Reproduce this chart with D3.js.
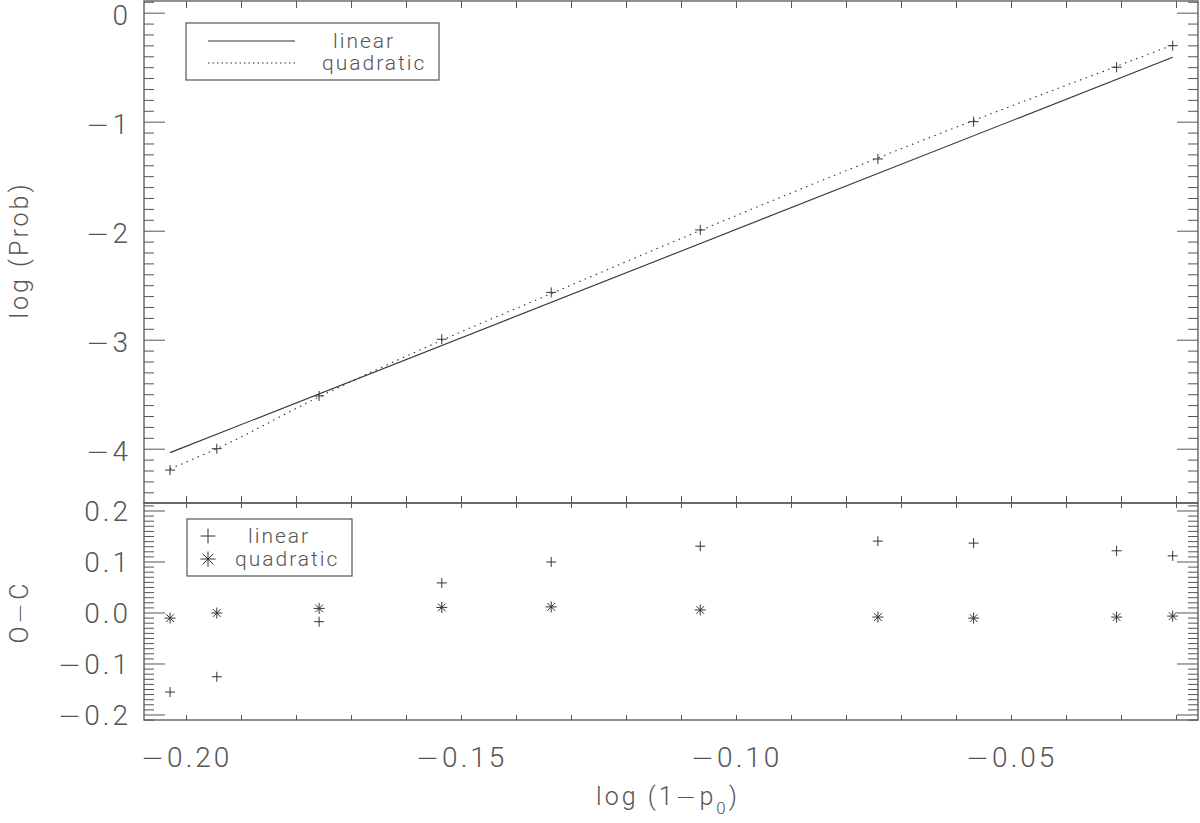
<!DOCTYPE html>
<html><head><meta charset="utf-8">
<script src="https://cdn.jsdelivr.net/npm/d3@7"></script>
<style>
html,body{margin:0;padding:0;background:#fff;}
text{font-family:Roboto,"DejaVu Sans",sans-serif;font-weight:300;fill:#555;}
tspan.mn{font-family:"DejaVu Sans",sans-serif;font-weight:200;}
</style></head>
<body><svg id="c" width="1200" height="823"></svg>
<script>
// ---- data ----
const logOneMinusP0 = [-0.2029, -0.1944, -0.1758, -0.1535, -0.1336, -0.1065, -0.0742, -0.0568, -0.0308, -0.0206];
const logProb       = [-4.196, -4.000, -3.516, -2.996, -2.566, -1.993, -1.342, -1.000, -0.501, -0.303];
const quadraticFit  = [-4.185, -3.999, -3.524, -3.006, -2.577, -1.998, -1.333, -0.989, -0.492, -0.296];
const linearFitX    = [-0.2029, -0.0206];
const linearFitY    = [-4.036, -0.409];
const ocLinear      = [-0.156, -0.126, -0.018, 0.058, 0.099, 0.130, 0.140, 0.136, 0.121, 0.111];
const ocQuadratic   = [-0.011, -0.001, 0.008, 0.010, 0.011, 0.005, -0.009, -0.011, -0.009, -0.007];
const xTickValues   = [-0.20, -0.15, -0.10, -0.05];
const xTickLabels   = ["\u22120.20", "\u22120.15", "\u22120.10", "\u22120.05"];
const topTickValues = [0, -1, -2, -3, -4];
const topTickLabels = ["0", "\u22121", "\u22122", "\u22123", "\u22124"];
const botTickValues = [0.2, 0.1, 0.0, -0.1, -0.2];
const botTickLabels = ["0.2", "0.1", "0.0", "\u22120.1", "\u22120.2"];
const legendTop     = ["linear", "quadratic"];
const legendBottom  = ["linear", "quadratic"];

// ---- layout ----
const L = 144, R = 1198, T1 = 1, B1 = 503, T2 = 503, B2 = 720;
const svg = d3.select("#c");
const axisCol = "#555", markCol = "#333";

const x = d3.scaleLinear().domain([-0.20764, -0.0160]).range([L, R]);
const yT = d3.scaleLinear().domain([-4.498, 0.107]).range([B1, T1]);
const yB = d3.scaleLinear().domain([-0.2108, 0.2147]).range([B2, T2]);

function rng(a, b, s) { const out = []; const n = Math.round((b - a) / s); for (let i = 0; i <= n; i++) out.push(+(a + i * s).toFixed(4)); return out; }
const xMinor = rng(-0.20, -0.02, 0.01);
const topMinor = rng(-4.4, 0.1, 0.1).filter(v => Math.abs(v - Math.round(v)) > 1e-6);
const botMinor = rng(-0.21, 0.21, 0.01).filter(v => Math.abs(v * 10 - Math.round(v * 10)) > 1e-6);
const botMajor = [-0.2, -0.1, 0.0, 0.1, 0.2];

function styleAxis(g) {
  g.select(".domain").remove();
  g.selectAll("line").attr("stroke", axisCol).attr("stroke-width", 1);
  g.selectAll("text").remove();
}
// put a wide minus sign into a text element
function fillText(t, str) {
  t.text(null);
  const parts = str.split("\u2212");
  parts.forEach((p, i) => {
    if (i > 0) t.append("tspan").attr("class", "mn").text("\u2212");
    if (p.length) t.append("tspan").text(p);
  });
}

// x ticks
svg.append("g").attr("transform", `translate(0,${T1})`).call(d3.axisBottom(x).tickValues(xMinor).tickSize(7)).call(styleAxis);
svg.append("g").attr("transform", `translate(0,${B1})`).call(d3.axisTop(x).tickValues(xMinor).tickSize(7)).call(styleAxis);
svg.append("g").attr("transform", `translate(0,${T2})`).call(d3.axisBottom(x).tickValues(xMinor).tickSize(5)).call(styleAxis);
svg.append("g").attr("transform", `translate(0,${B2})`).call(d3.axisTop(x).tickValues(xMinor).tickSize(5)).call(styleAxis);

// y ticks top panel
svg.append("g").attr("transform", `translate(${L},0)`).call(d3.axisRight(yT).tickValues(topTickValues).tickSize(21)).call(styleAxis);
svg.append("g").attr("transform", `translate(${L},0)`).call(d3.axisRight(yT).tickValues(topMinor).tickSize(10)).call(styleAxis);
svg.append("g").attr("transform", `translate(${R},0)`).call(d3.axisLeft(yT).tickValues(topTickValues).tickSize(21)).call(styleAxis);
svg.append("g").attr("transform", `translate(${R},0)`).call(d3.axisLeft(yT).tickValues(topMinor).tickSize(10)).call(styleAxis);
// y ticks bottom panel
svg.append("g").attr("transform", `translate(${L},0)`).call(d3.axisRight(yB).tickValues(botMajor).tickSize(21)).call(styleAxis);
svg.append("g").attr("transform", `translate(${L},0)`).call(d3.axisRight(yB).tickValues(botMinor).tickSize(10)).call(styleAxis);
svg.append("g").attr("transform", `translate(${R},0)`).call(d3.axisLeft(yB).tickValues(botMajor).tickSize(21)).call(styleAxis);
svg.append("g").attr("transform", `translate(${R},0)`).call(d3.axisLeft(yB).tickValues(botMinor).tickSize(10)).call(styleAxis);

// frames
svg.append("rect").attr("x", L).attr("y", T1).attr("width", R - L).attr("height", B1 - T1)
  .attr("fill", "none").attr("stroke", axisCol).attr("stroke-width", 1.3);
svg.append("rect").attr("x", L).attr("y", T2).attr("width", R - L).attr("height", B2 - T2)
  .attr("fill", "none").attr("stroke", axisCol).attr("stroke-width", 1.3);

// tick labels
const lblFont = 28, lblSpace = 3;
function styleLabels(g, labels) {
  g.select(".domain").remove();
  g.attr("font-family", null).attr("font-size", null);
  g.selectAll("text").attr("font-size", lblFont).attr("letter-spacing", lblSpace).attr("fill", null)
    .each(function(d, i) { fillText(d3.select(this), labels[i]); });
}
const gyT = svg.append("g").attr("transform", `translate(${L},0)`).call(d3.axisLeft(yT).tickValues(topTickValues).tickSize(0).tickPadding(13));
styleLabels(gyT, topTickLabels);
gyT.selectAll("text").attr("dy", "0.42em");
const gyB = svg.append("g").attr("transform", `translate(${L},0)`).call(d3.axisLeft(yB).tickValues(botTickValues).tickSize(0).tickPadding(13));
styleLabels(gyB, botTickLabels);
gyB.selectAll("text").attr("dy", "0.36em");
const gx = svg.append("g").attr("transform", `translate(0,${B2})`).call(d3.axisBottom(x).tickValues(xTickValues).tickSize(0));
styleLabels(gx, xTickLabels);
gx.selectAll("text").attr("y", 47).attr("dy", 0);

// axis titles
svg.append("text").attr("transform", "translate(28,250) rotate(-90)").attr("text-anchor", "middle")
  .attr("font-size", 25).attr("letter-spacing", 3).text("log (Prob)");
const oc = svg.append("text").attr("transform", "translate(28,612) rotate(-90)").attr("text-anchor", "middle")
  .attr("font-size", 25).attr("letter-spacing", 3);
fillText(oc, "O\u2212C");
const xt = svg.append("text").attr("x", 668).attr("y", 805).attr("text-anchor", "middle")
  .attr("font-size", 25).attr("letter-spacing", 3);
xt.append("tspan").text("log (1");
xt.append("tspan").attr("class", "mn").text("\u2212");
xt.append("tspan").text("p");
xt.append("tspan").attr("font-size", 17).attr("dy", 9).text("0");
xt.append("tspan").attr("dy", -9).text(")");

// top panel lines
const pts = logOneMinusP0.map((v, i) => [v, logProb[i]]);
svg.append("path").datum(linearFitX.map((v, i) => [v, linearFitY[i]]))
  .attr("d", d3.line().x(d => x(d[0])).y(d => yT(d[1])))
  .attr("fill", "none").attr("stroke", markCol).attr("stroke-width", 1.1);
svg.append("path").datum(logOneMinusP0.map((v, i) => [v, quadraticFit[i]]))
  .attr("d", d3.line().curve(d3.curveMonotoneX).x(d => x(d[0])).y(d => yT(d[1])))
  .attr("fill", "none").attr("stroke", markCol).attr("stroke-width", 1.1).attr("stroke-dasharray", "1.5,4.5");

function plus(g, cx, cy, r) {
  g.append("path").attr("d", `M${cx - r},${cy}H${cx + r}M${cx},${cy - r}V${cy + r}`)
    .attr("stroke", markCol).attr("stroke-width", 1).attr("fill", "none");
}
function star(g, cx, cy, r) {
  const d = r * Math.SQRT1_2;
  g.append("path").attr("d", `M${cx - r},${cy}H${cx + r}M${cx},${cy - r}V${cy + r}M${cx - d},${cy - d}L${cx + d},${cy + d}M${cx - d},${cy + d}L${cx + d},${cy - d}`)
    .attr("stroke", markCol).attr("stroke-width", 1).attr("fill", "none");
}
const mk = svg.append("g");
pts.forEach(p => plus(mk, x(p[0]), yT(p[1]), 5));
logOneMinusP0.forEach((v, i) => plus(mk, x(v), yB(ocLinear[i]), 5));
logOneMinusP0.forEach((v, i) => star(mk, x(v), yB(ocQuadratic[i]), 5.5));

// top legend
const lg = svg.append("g");
lg.append("rect").attr("x", 186).attr("y", 23).attr("width", 253).attr("height", 57)
  .attr("fill", "none").attr("stroke", axisCol).attr("stroke-width", 1.2);
lg.append("line").attr("x1", 208).attr("x2", 295).attr("y1", 41).attr("y2", 41).attr("stroke", markCol).attr("stroke-width", 1.1);
lg.append("line").attr("x1", 208).attr("x2", 295).attr("y1", 63).attr("y2", 63).attr("stroke", markCol).attr("stroke-width", 1.1).attr("stroke-dasharray", "1.5,3");
lg.append("text").attr("x", 333).attr("y", 48).attr("font-size", 21).attr("letter-spacing", 2).text(legendTop[0]);
lg.append("text").attr("x", 322).attr("y", 70).attr("font-size", 21).attr("letter-spacing", 2).text(legendTop[1]);

// bottom legend
const lb = svg.append("g");
lb.append("rect").attr("x", 187).attr("y", 519).attr("width", 165).attr("height", 57)
  .attr("fill", "none").attr("stroke", axisCol).attr("stroke-width", 1.2);
plus(lb, 208, 536, 7.5);
star(lb, 208, 559, 7.5);
lb.append("text").attr("x", 248).attr("y", 543).attr("font-size", 21).attr("letter-spacing", 2).text(legendBottom[0]);
lb.append("text").attr("x", 235).attr("y", 566).attr("font-size", 21).attr("letter-spacing", 2).text(legendBottom[1]);
</script></body></html>
